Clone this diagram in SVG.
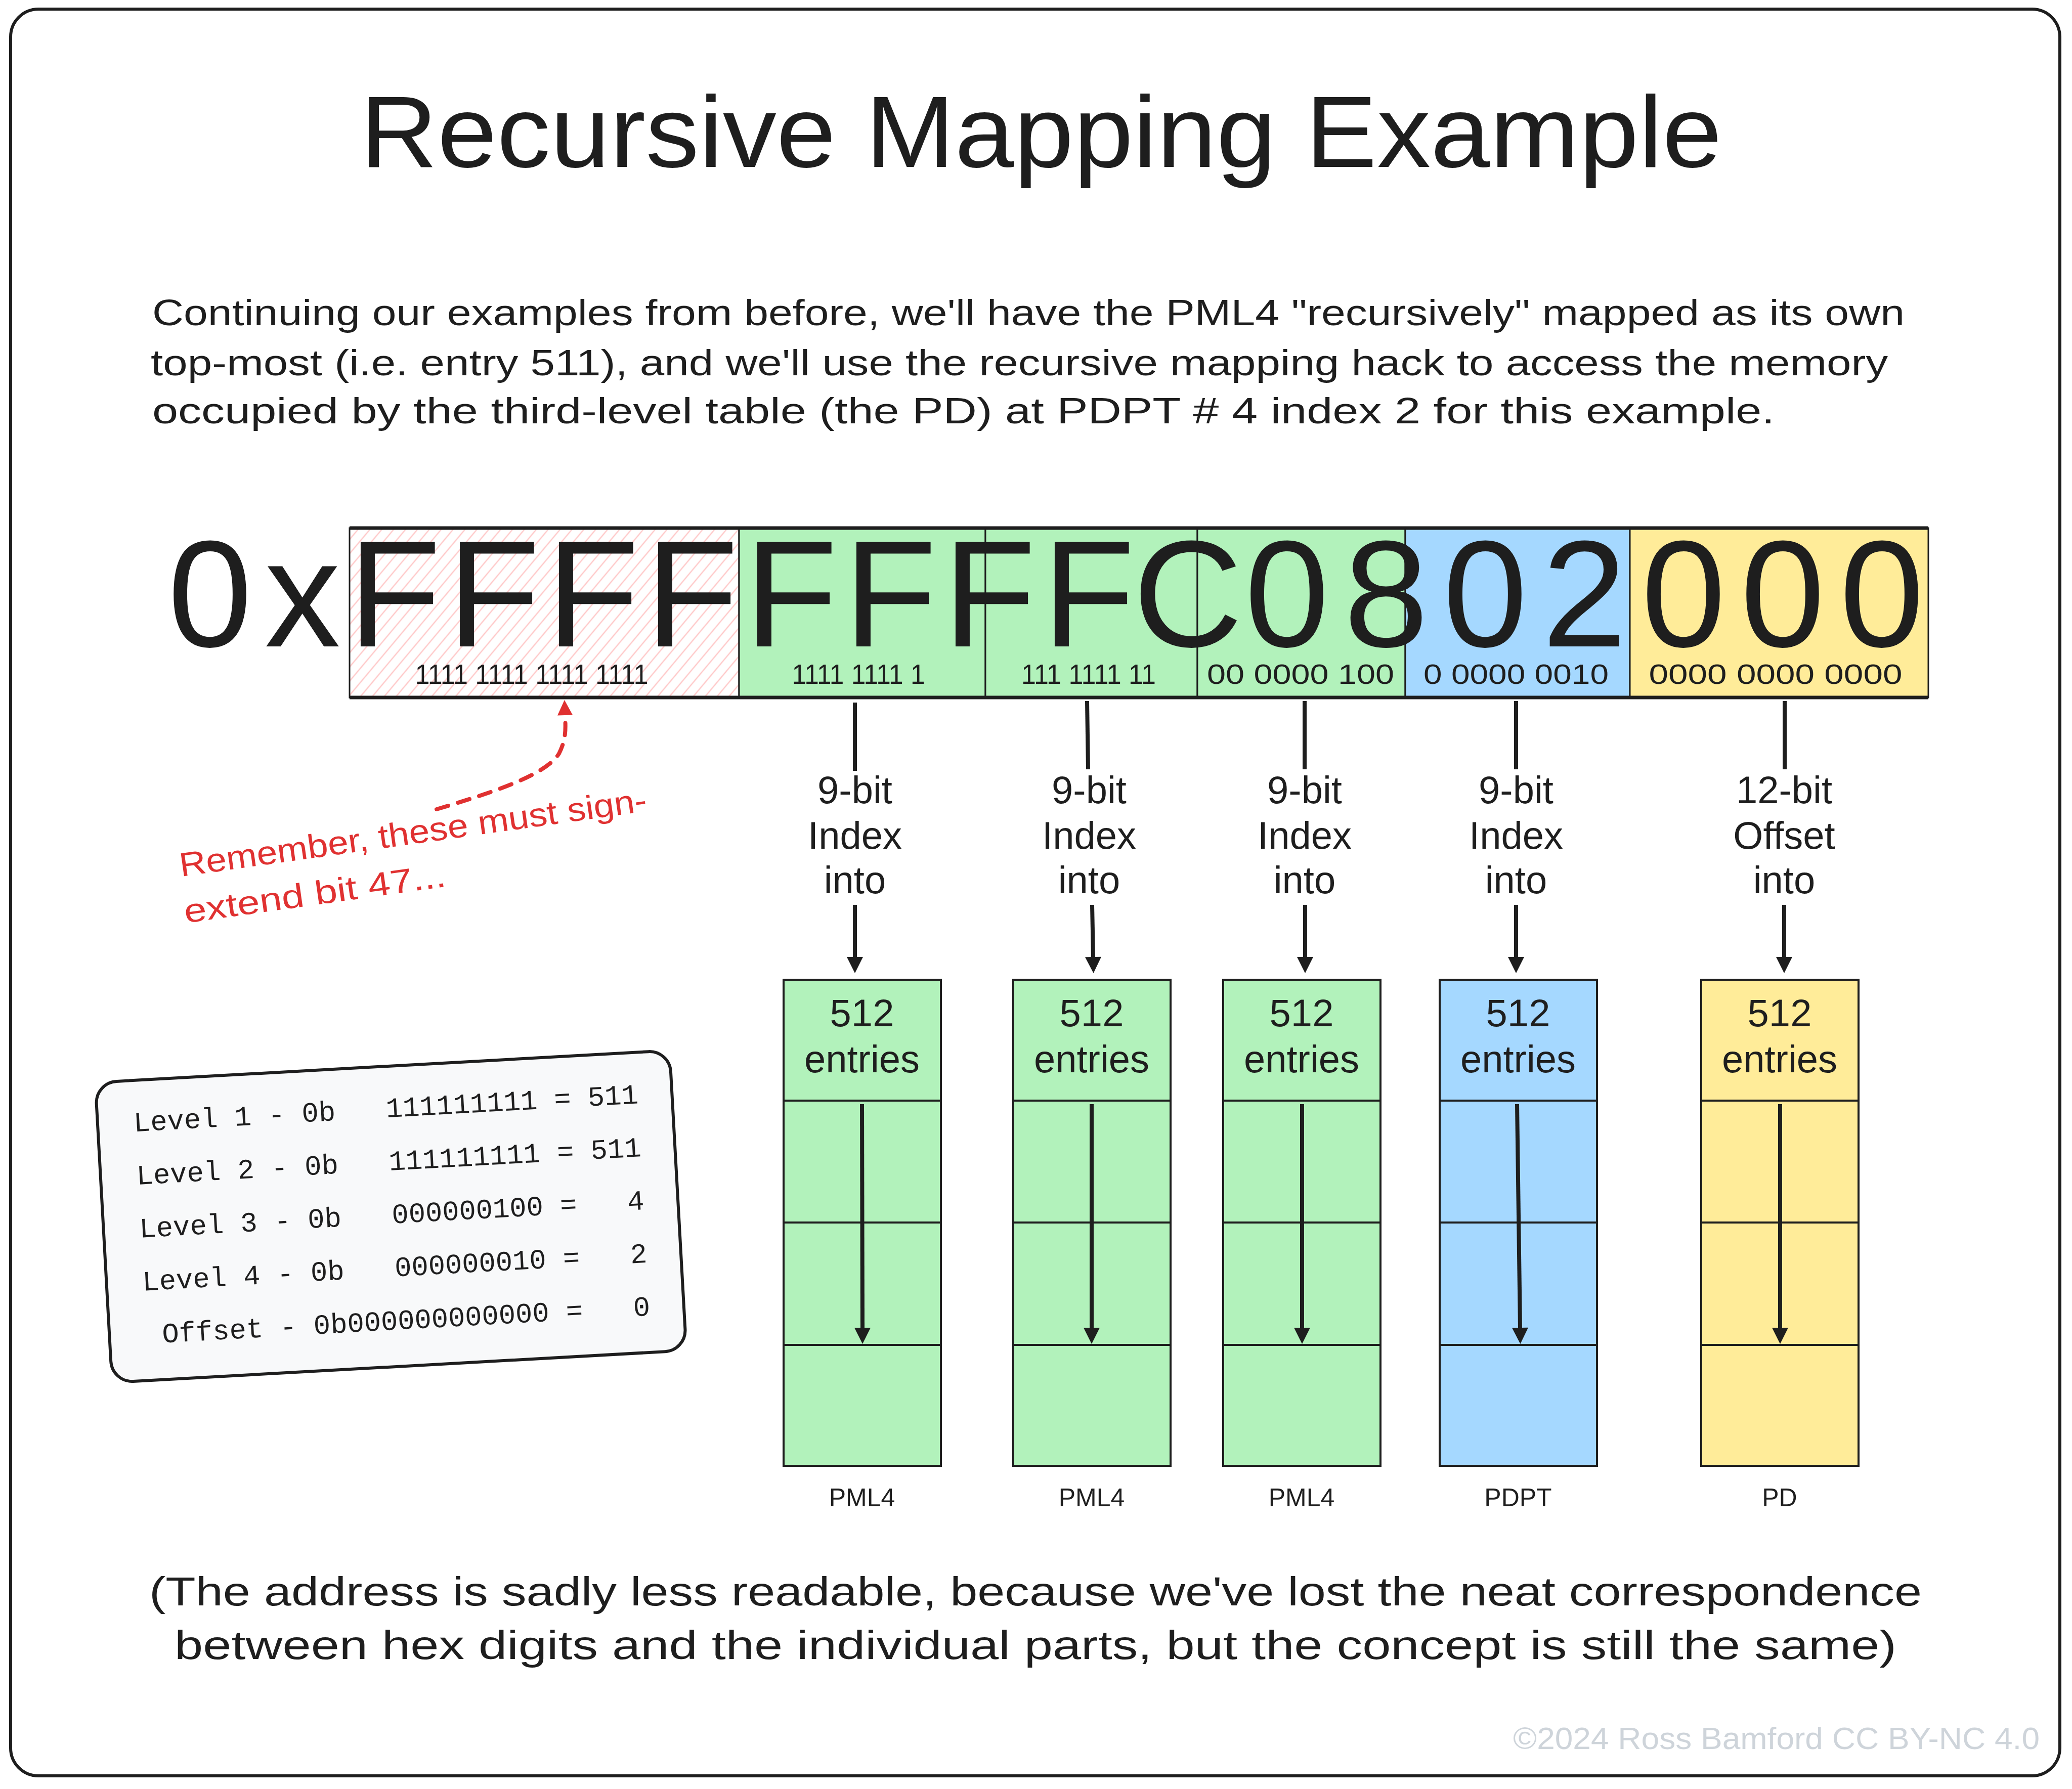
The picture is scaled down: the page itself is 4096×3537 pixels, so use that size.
<svg xmlns="http://www.w3.org/2000/svg" width="4096" height="3537" viewBox="0 0 4096 3537">
<style>
.t{font-family:"Liberation Sans",Arial,sans-serif;fill:#1e1e1e}
.m{font-family:"Liberation Mono","Courier New",monospace;fill:#1e1e1e;font-size:55.5px}
.c{text-anchor:middle}
.seg{stroke:#1e1e1e;stroke-width:3}
.tb{stroke:#1e1e1e;stroke-width:4}
.ln{stroke:#1e1e1e;stroke-width:8;fill:none}
.lbl{font-size:76px}
.hdr{font-size:76px}
.tn{font-size:50px}
.bin{font-size:55px}
</style>
<defs>
<pattern id="hatch" patternUnits="userSpaceOnUse" width="18" height="18" patternTransform="rotate(40)">
<rect width="18" height="18" fill="#ffffff"/>
<line x1="9" y1="0" x2="9" y2="18" stroke="#ffc9c9" stroke-width="2.5"/>
</pattern>
<marker id="ah" viewBox="0 0 10 10" refX="0" refY="5" markerUnits="userSpaceOnUse" markerWidth="34" markerHeight="32" orient="auto">
<path d="M0,0 L10,5 L0,10 z" fill="#1e1e1e"/>
</marker>
<marker id="ahr" viewBox="0 0 10 10" refX="0" refY="5" markerUnits="userSpaceOnUse" markerWidth="32" markerHeight="30" orient="auto">
<path d="M0,0 L10,5 L0,10 z" fill="#e03131"/>
</marker>
</defs>
<rect width="4096" height="3537" fill="#ffffff"/>
<rect id="frame" x="21" y="18" width="4051" height="3493" rx="55" fill="none" stroke="#1e1e1e" stroke-width="6"/>

<g id="title">
<text class="t" x="712" y="330" font-size="200" textLength="2692" lengthAdjust="spacingAndGlyphs">Recursive Mapping Example</text>
</g>

<g id="intro">
<text class="t" x="301" y="643" font-size="72" textLength="3464" lengthAdjust="spacingAndGlyphs">Continuing our examples from before, we'll have the PML4 "recursively" mapped as its own</text>
<text class="t" x="298" y="742" font-size="72" textLength="3434" lengthAdjust="spacingAndGlyphs">top-most (i.e. entry 511), and we'll use the recursive mapping hack to access the memory</text>
<text class="t" x="301" y="837" font-size="72" textLength="3207" lengthAdjust="spacingAndGlyphs">occupied by the third-level table (the PD) at PDPT # 4 index 2 for this example.</text>
</g>

<g id="address-bar">
<g id="seg-sign"><rect class="seg" x="691" y="1044" width="770" height="335" fill="url(#hatch)"/></g>
<g id="seg-l1"><rect class="seg" x="1461" y="1044" width="487" height="335" fill="#b2f2bb"/></g>
<g id="seg-l2"><rect class="seg" x="1948" y="1044" width="419" height="335" fill="#b2f2bb"/></g>
<g id="seg-l3"><rect class="seg" x="2367" y="1044" width="411" height="335" fill="#b2f2bb"/></g>
<g id="seg-l4"><rect class="seg" x="2778" y="1044" width="444" height="335" fill="#a5d8ff"/></g>
<g id="seg-off"><rect class="seg" x="3222" y="1044" width="590" height="335" fill="#ffec99"/></g>
<line x1="691" y1="1044" x2="3812" y2="1044" stroke="#1e1e1e" stroke-width="7"/>
<line x1="691" y1="1379" x2="3812" y2="1379" stroke="#1e1e1e" stroke-width="7"/>
<text class="t c" y="1278" font-size="300" x="415 598 780 976 1172 1368 1564 1760 1956 2152 2348 2544 2740 2936 3132 3328 3524 3720">0xFFFFFFFFC0802000</text>
<text class="t c bin" x="1051" y="1352" textLength="461" lengthAdjust="spacingAndGlyphs">1111 1111 1111 1111</text>
<text class="t c bin" x="1697" y="1352" textLength="263" lengthAdjust="spacingAndGlyphs">1111 1111 1</text>
<text class="t c bin" x="2152" y="1352" textLength="266" lengthAdjust="spacingAndGlyphs">111 1111 11</text>
<text class="t c bin" x="2571" y="1352" textLength="370" lengthAdjust="spacingAndGlyphs">00 0000 100</text>
<text class="t c bin" x="2997" y="1352" textLength="366" lengthAdjust="spacingAndGlyphs">0 0000 0010</text>
<text class="t c bin" x="3510" y="1352" textLength="501" lengthAdjust="spacingAndGlyphs">0000 0000 0000</text>
</g>

<g id="labels">
<text class="t c lbl" x="1690" y="1588">9-bit</text>
<text class="t c lbl" x="1690" y="1678">Index</text>
<text class="t c lbl" x="1690" y="1766">into</text>
<text class="t c lbl" x="2153" y="1588">9-bit</text>
<text class="t c lbl" x="2153" y="1678">Index</text>
<text class="t c lbl" x="2153" y="1766">into</text>
<text class="t c lbl" x="2579" y="1588">9-bit</text>
<text class="t c lbl" x="2579" y="1678">Index</text>
<text class="t c lbl" x="2579" y="1766">into</text>
<text class="t c lbl" x="2997" y="1588">9-bit</text>
<text class="t c lbl" x="2997" y="1678">Index</text>
<text class="t c lbl" x="2997" y="1766">into</text>
<text class="t c lbl" x="3527" y="1588">12-bit</text>
<text class="t c lbl" x="3527" y="1678">Offset</text>
<text class="t c lbl" x="3527" y="1766">into</text>
</g>

<g id="table-pml4-a">
<rect class="tb" x="1549" y="1937" width="311" height="961" fill="#b2f2bb"/>
<line class="tb" x1="1549" y1="2176" x2="1860" y2="2176"/>
<line class="tb" x1="1549" y1="2417" x2="1860" y2="2417"/>
<line class="tb" x1="1549" y1="2659" x2="1860" y2="2659"/>
<text class="t c hdr" x="1704" y="2029">512</text>
<text class="t c hdr" x="1704" y="2120">entries</text>
<text class="t c tn" x="1704" y="2978">PML4</text>
</g>
<g id="table-pml4-b">
<rect class="tb" x="2003" y="1937" width="311" height="961" fill="#b2f2bb"/>
<line class="tb" x1="2003" y1="2176" x2="2314" y2="2176"/>
<line class="tb" x1="2003" y1="2417" x2="2314" y2="2417"/>
<line class="tb" x1="2003" y1="2659" x2="2314" y2="2659"/>
<text class="t c hdr" x="2158" y="2029">512</text>
<text class="t c hdr" x="2158" y="2120">entries</text>
<text class="t c tn" x="2158" y="2978">PML4</text>
</g>
<g id="table-pml4-c">
<rect class="tb" x="2418" y="1937" width="311" height="961" fill="#b2f2bb"/>
<line class="tb" x1="2418" y1="2176" x2="2729" y2="2176"/>
<line class="tb" x1="2418" y1="2417" x2="2729" y2="2417"/>
<line class="tb" x1="2418" y1="2659" x2="2729" y2="2659"/>
<text class="t c hdr" x="2573" y="2029">512</text>
<text class="t c hdr" x="2573" y="2120">entries</text>
<text class="t c tn" x="2573" y="2978">PML4</text>
</g>
<g id="table-pdpt">
<rect class="tb" x="2846" y="1937" width="311" height="961" fill="#a5d8ff"/>
<line class="tb" x1="2846" y1="2176" x2="3157" y2="2176"/>
<line class="tb" x1="2846" y1="2417" x2="3157" y2="2417"/>
<line class="tb" x1="2846" y1="2659" x2="3157" y2="2659"/>
<text class="t c hdr" x="3001" y="2029">512</text>
<text class="t c hdr" x="3001" y="2120">entries</text>
<text class="t c tn" x="3001" y="2978">PDPT</text>
</g>
<g id="table-pd">
<rect class="tb" x="3363" y="1937" width="311" height="961" fill="#ffec99"/>
<line class="tb" x1="3363" y1="2176" x2="3674" y2="2176"/>
<line class="tb" x1="3363" y1="2417" x2="3674" y2="2417"/>
<line class="tb" x1="3363" y1="2659" x2="3674" y2="2659"/>
<text class="t c hdr" x="3518" y="2029">512</text>
<text class="t c hdr" x="3518" y="2120">entries</text>
<text class="t c tn" x="3518" y="2978">PD</text>
</g>

<g id="connectors">
<line class="ln" x1="1690" y1="1389" x2="1690" y2="1524"/>
<line class="ln" x1="2149" y1="1386" x2="2151" y2="1521"/>
<line class="ln" x1="2579" y1="1386" x2="2579" y2="1521"/>
<line class="ln" x1="2997" y1="1386" x2="2997" y2="1521"/>
<line class="ln" x1="3528" y1="1386" x2="3528" y2="1521"/>
<line class="ln" x1="1690" y1="1789" x2="1690" y2="1892" marker-end="url(#ah)"/>
<line class="ln" x1="2159" y1="1789" x2="2161" y2="1892" marker-end="url(#ah)"/>
<line class="ln" x1="2580" y1="1789" x2="2580" y2="1892" marker-end="url(#ah)"/>
<line class="ln" x1="2997" y1="1789" x2="2997" y2="1892" marker-end="url(#ah)"/>
<line class="ln" x1="3527" y1="1789" x2="3527" y2="1892" marker-end="url(#ah)"/>
<line class="ln" x1="1704" y1="2183" x2="1705" y2="2625" marker-end="url(#ah)"/>
<line class="ln" x1="2158" y1="2183" x2="2158" y2="2625" marker-end="url(#ah)"/>
<line class="ln" x1="2574" y1="2183" x2="2574" y2="2625" marker-end="url(#ah)"/>
<line class="ln" x1="2999" y1="2183" x2="3005" y2="2625" marker-end="url(#ah)"/>
<line class="ln" x1="3519" y1="2183" x2="3519" y2="2625" marker-end="url(#ah)"/>
<path d="M863 1600 C990 1562 1080 1530 1105 1490 C1120 1460 1118 1440 1117 1414" fill="none" stroke="#e03131" stroke-width="8" stroke-linecap="round" stroke-dasharray="24 20" marker-end="url(#ahr)"/>
</g>

<g id="note">
<text class="t" x="358" y="1733" font-size="66" fill="#e03131" style="fill:#e03131" transform="rotate(-8 358 1733)" textLength="932" lengthAdjust="spacingAndGlyphs">Remember, these must sign-</text>
<text class="t" x="367" y="1825" font-size="66" style="fill:#e03131" transform="rotate(-8 367 1825)" textLength="522" lengthAdjust="spacingAndGlyphs">extend bit 47...</text>
</g>

<g id="legend" transform="translate(774 2404) rotate(-3.2)">
<rect x="-570" y="-296" width="1137" height="594" rx="42" fill="#f8f9fa" stroke="#1e1e1e" stroke-width="6"/>
<text class="m" xml:space="preserve" x="-499" y="-195">Level 1 - 0b   111111111 = 511</text>
<text class="m" xml:space="preserve" x="-499" y="-90">Level 2 - 0b   111111111 = 511</text>
<text class="m" xml:space="preserve" x="-499" y="15">Level 3 - 0b   000000100 =   4</text>
<text class="m" xml:space="preserve" x="-499" y="120">Level 4 - 0b   000000010 =   2</text>
<text class="m" xml:space="preserve" x="-499" y="225"> Offset - 0b000000000000 =   0</text>
</g>

<g id="footer">
<text class="t" x="295" y="3174" font-size="80" textLength="3504" lengthAdjust="spacingAndGlyphs">(The address is sadly less readable, because we've lost the neat correspondence</text>
<text class="t" x="345" y="3280" font-size="80" textLength="3404" lengthAdjust="spacingAndGlyphs">between hex digits and the individual parts, but the concept is still the same)</text>
<text class="t" x="2991" y="3458" font-size="62" style="fill:#ced4da" textLength="1041" lengthAdjust="spacingAndGlyphs">©2024 Ross Bamford CC BY-NC 4.0</text>
</g>
</svg>
